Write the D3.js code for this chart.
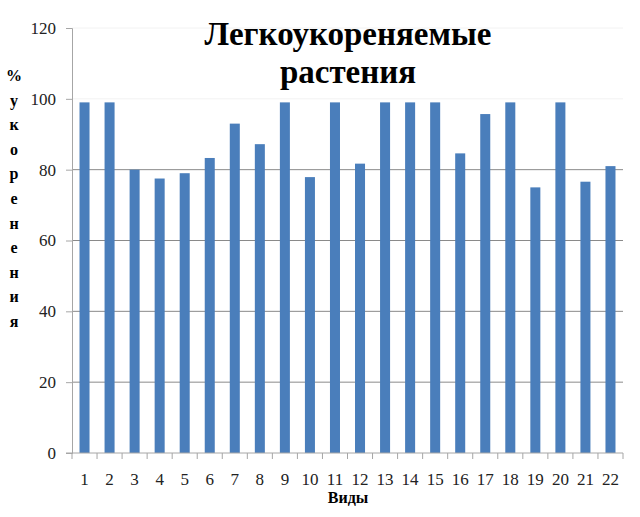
<!DOCTYPE html>
<html>
<head>
<meta charset="utf-8">
<script src="https://cdn.jsdelivr.net/npm/d3@7"></script>
<style>
  body { margin: 0; background: #fff; }
  svg text { font-family: "Liberation Serif", "Times New Roman", serif; }
</style>
</head>
<body>
<svg id="chart" width="640" height="517"></svg>
<script>
// data
var species = d3.range(1, 23).map(String);
var rooting = [99, 99, 80, 77.5, 79, 83.3, 93, 87.2, 99, 77.9, 99, 81.7,
               99, 99, 99, 84.6, 95.7, 99, 75, 99, 76.6, 81];
var yTicks = [0, 20, 40, 60, 80, 100, 120];
var titleLines = ["Легкоукореняемые", "растения"];
var yLabel = "% укоренения";
var xLabel = "Виды";

var svg = d3.select("#chart");
var plot = { left: 72, right: 623, top: 28, bottom: 453 };

var x = d3.scaleBand().domain(species).range([plot.left, plot.right]).paddingInner(0.6).paddingOuter(0.3);
var y = d3.scaleLinear().domain([0, 120]).range([plot.bottom, plot.top]);

// gridlines
svg.append("g")
  .selectAll("line")
  .data(yTicks.filter(function (d) { return d > 0; }))
  .enter().append("line")
  .attr("x1", plot.left).attr("x2", plot.right)
  .attr("y1", function (d) { return y(d); })
  .attr("y2", function (d) { return y(d); })
  .attr("stroke", function (d) { return d >= 100 ? "#f2f2f2" : "#8a8a8a"; })
  .attr("stroke-width", 1);

// bars
svg.append("g")
  .selectAll("rect")
  .data(rooting)
  .enter().append("rect")
  .attr("x", function (d, i) { return x(species[i]); })
  .attr("width", x.bandwidth())
  .attr("y", function (d) { return y(d); })
  .attr("height", function (d) { return plot.bottom - y(d); })
  .attr("fill", "#4a7ebb");

// y axis
var yAxis = svg.append("g")
  .attr("transform", "translate(" + plot.left + ",0)")
  .call(d3.axisLeft(y).tickValues(yTicks).tickSize(6).tickPadding(10));
yAxis.select(".domain").attr("stroke", "#a6a6a6");
yAxis.selectAll(".tick line").attr("stroke", "#a6a6a6");
yAxis.selectAll("text").attr("font-size", 17).attr("fill", "#222")
  .style("font-family", "Liberation Serif, serif");

// x axis: ticks sit between the categories
var xAxis = svg.append("g").attr("transform", "translate(0," + plot.bottom + ")");
xAxis.append("line").attr("x1", plot.left - 6).attr("x2", plot.right)
  .attr("stroke", "#a6a6a6");
var sepX = function (i) { return plot.left + i * (plot.right - plot.left) / species.length; };
xAxis.selectAll(".sep")
  .data(d3.range(species.length + 1))
  .enter().append("line")
  .attr("x1", sepX).attr("x2", sepX)
  .attr("y1", 0).attr("y2", 6)
  .attr("stroke", "#a6a6a6");
xAxis.selectAll("text")
  .data(species)
  .enter().append("text")
  .attr("x", function (d) { return x(d) + x.bandwidth() / 2; })
  .attr("y", 32)
  .attr("text-anchor", "middle")
  .attr("font-size", 17)
  .attr("fill", "#222")
  .text(function (d) { return d; });

// title
svg.append("text")
  .attr("x", 348).attr("y", 45)
  .attr("text-anchor", "middle")
  .attr("font-size", 33).attr("font-weight", "bold")
  .selectAll("tspan")
  .data(titleLines)
  .enter().append("tspan")
  .attr("x", 348)
  .attr("dy", function (d, i) { return i ? 38 : 0; })
  .text(function (d) { return d; });

// vertical stacked y label
var letters = yLabel.replace(" ", "").split("");
svg.append("g")
  .selectAll("text")
  .data(letters)
  .enter().append("text")
  .attr("x", 14)
  .attr("y", function (d, i) { return 81 + i * 24.6; })
  .attr("text-anchor", "middle")
  .attr("font-size", 16).attr("font-weight", "bold")
  .text(function (d) { return d; });

// x label
svg.append("text")
  .attr("x", 348).attr("y", 503)
  .attr("text-anchor", "middle")
  .attr("font-size", 16).attr("font-weight", "bold")
  .text(xLabel);
</script>
</body>
</html>
